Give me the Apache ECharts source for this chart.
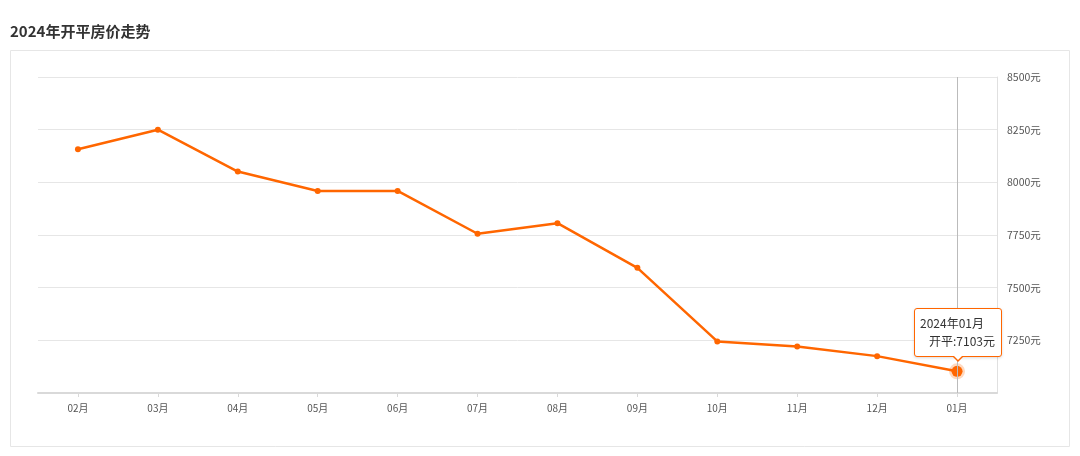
<!DOCTYPE html>
<html>
<head>
<meta charset="utf-8">
<script src="https://cdn.jsdelivr.net/npm/echarts@6/dist/echarts.min.js"></script>
<style>
html,body{margin:0;padding:0;background:#fff;}
#c{width:1080px;height:456px;}
</style>
</head>
<body>
<div id="c"></div>
<script>
const titleText = '2024年开平房价走势';
const months = ['02月','03月','04月','05月','06月','07月','08月','09月','10月','11月','12月','01月'];
const tipLabels = ['2023年02月','2023年03月','2023年04月','2023年05月','2023年06月','2023年07月','2023年08月','2023年09月','2023年10月','2023年11月','2023年12月','2024年01月'];
const prices = [8157, 8250, 8051, 7959, 7959, 7756, 7806, 7594, 7245, 7221, 7175, 7103];
const seriesName = '开平';
const unit = '元';
const yMin = 7000, yMax = 8500, yStep = 250;
const tipIndex = 11;

const FONT = '"Noto Sans CJK SC", "Noto Sans", sans-serif';
const ORANGE = '#ff6600';
const chart = echarts.init(document.getElementById('c'), null, {renderer: 'canvas'});

const seriesData = prices.map((v, i) => i === tipIndex ? {
  value: v,
  symbolSize: 10,
  itemStyle: {color: ORANGE, borderColor: 'rgba(255,102,0,0.25)', borderWidth: 5}
} : v);

chart.setOption({
  animation: false,
  textStyle: {fontFamily: FONT},
  title: {
    text: titleText, left: 5, top: 19,
    textStyle: {fontSize: 15, fontWeight: 'bold', color: '#333', fontFamily: FONT}
  },
  graphic: [{
    type: 'rect', left: 10, top: 50, z: -10,
    shape: {width: 1059, height: 396},
    style: {fill: '#fff', stroke: '#e6e6e6', lineWidth: 1}
  }],
  grid: {left: 38, right: 83, top: 77, bottom: 63},
  tooltip: {
    trigger: 'axis',
    alwaysShowContent: true,
    transitionDuration: 0,
    showDelay: 0,
    backgroundColor: '#fff',
    borderColor: ORANGE,
    borderWidth: 1,
    padding: [5, 6, 6, 5],
    extraCssText: 'border-radius:3px;box-shadow:0 1px 3px rgba(0,0,0,0.15);overflow:visible;',
    textStyle: {fontSize: 12, color: '#333', fontFamily: FONT},
    axisPointer: {type: 'line', lineStyle: {color: '#bbb', width: 1, type: 'solid'}},
    formatter: function (params) {
      const p = params[0];
      return '<div style="line-height:18px;position:relative;">' +
        '<div>' + tipLabels[p.dataIndex] + '</div>' +
        '<div style="padding-left:9px">' + p.seriesName + ':' + p.value + unit + '</div>' +
        '</div>' +
        '<div style="position:absolute;left:50%;bottom:-6px;margin-left:-6px;width:0;height:0;border-left:6px solid transparent;border-right:6px solid transparent;border-top:6px solid ' + ORANGE + ';"></div>' +
        '<div style="position:absolute;left:50%;bottom:-4px;margin-left:-5px;width:0;height:0;border-left:5px solid transparent;border-right:5px solid transparent;border-top:5px solid #fff;"></div>';
    },
    position: function (point, params, dom, rect, size) {
      const idx = params[0].dataIndex;
      const px = chart.convertToPixel({seriesIndex: 0}, [idx, prices[idx]]);
      return [px[0] - size.contentSize[0] / 2 + 1, px[1] - size.contentSize[1] - 14];
    }
  },
  xAxis: {
    type: 'category',
    data: months,
    boundaryGap: true,
    axisLine: {show: true, lineStyle: {color: '#d9d9d9', width: 2}},
    axisTick: {show: true, alignWithLabel: true, length: 4, lineStyle: {color: '#d9d9d9'}},
    axisLabel: {color: '#555', fontSize: 10, margin: 10, fontFamily: FONT},
    splitLine: {show: false}
  },
  yAxis: {
    type: 'value',
    position: 'right',
    min: yMin, max: yMax, interval: yStep,
    axisLine: {show: true, lineStyle: {color: '#e0e0e0', width: 1}},
    axisTick: {show: false},
    axisLabel: {
      color: '#555', fontSize: 10.5, margin: 10, fontFamily: FONT,
      showMinLabel: false,
      formatter: function (v) { return v + unit; }
    },
    splitLine: {show: true, lineStyle: {color: '#e6e6e6', width: 1}}
  },
  series: [{
    name: seriesName,
    type: 'line',
    data: seriesData,
    symbol: 'circle',
    symbolSize: 6,
    lineStyle: {color: ORANGE, width: 2.5},
    itemStyle: {color: ORANGE},
    emphasis: {disabled: true}
  }]
});

chart.dispatchAction({type: 'showTip', seriesIndex: 0, dataIndex: tipIndex});
</script>
</body>
</html>
